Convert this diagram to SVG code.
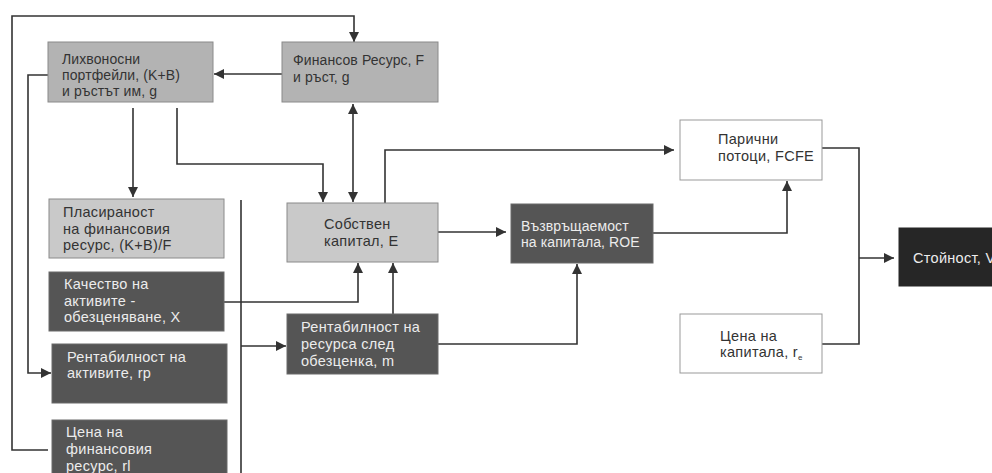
<svg xmlns="http://www.w3.org/2000/svg" width="992" height="473" viewBox="0 0 992 473">
<style>
.g{fill:#b3b3b3;stroke:#8a8a8a;stroke-width:1}
.l{fill:#c9c9c9;stroke:#8a8a8a;stroke-width:1}
.d{fill:#555;stroke:#6a6a6a;stroke-width:1}
.w{fill:#fff;stroke:#999;stroke-width:1}
.k{fill:#262626;stroke:#262626;stroke-width:1}
text{font-family:"Liberation Sans",Arial,sans-serif;font-size:14.5px;letter-spacing:0.3px}
.s{font-size:14px;letter-spacing:0.1px}
.tg{fill:#333}
.td{fill:#ececec}
.c path{fill:none;stroke:#333;stroke-width:1.6}
</style>
<defs>
<marker id="a" viewBox="0 0 10 10" refX="10" refY="5" markerWidth="10" markerHeight="10" markerUnits="userSpaceOnUse" orient="auto-start-reverse"><path d="M0,0L10,5L0,10z" fill="#333"/></marker>
</defs>
<rect width="992" height="473" fill="#fff"/>
<g class="c">
<path d="M48,450H12V16H354V42" marker-end="url(#a)"/>
<path d="M282,74H214" marker-end="url(#a)"/>
<path d="M48,75H28V373H51" marker-end="url(#a)"/>
<path d="M133,108V197" marker-end="url(#a)"/>
<path d="M177,108V164H323V202" marker-end="url(#a)"/>
<path d="M353,104V202" marker-start="url(#a)" marker-end="url(#a)"/>
<path d="M385,203V150H674" marker-end="url(#a)"/>
<path d="M241,200V473"/>
<path d="M438,232H506" marker-end="url(#a)"/>
<path d="M224,302H358V263" marker-end="url(#a)"/>
<path d="M393,314V263" marker-end="url(#a)"/>
<path d="M241,346H286" marker-end="url(#a)"/>
<path d="M438,344H577V264" marker-end="url(#a)"/>
<path d="M653,233H787V181" marker-end="url(#a)"/>
<path d="M822,148H859V344H822"/>
<path d="M859,258H894" marker-end="url(#a)"/>
</g>
<g id="n1"><rect class="g" x="48" y="42" width="165" height="60"/><text class="tg s"><tspan x="62" y="64">Лихвоносни</tspan><tspan x="62" y="80">портфейли, (K+B)</tspan><tspan x="62" y="96">и ръстът им, g</tspan></text></g>
<g id="n2"><rect class="g" x="282" y="42" width="156" height="60"/><text class="tg s"><tspan x="293" y="65">Финансов Ресурс, F</tspan><tspan x="293" y="82">и ръст, g</tspan></text></g>
<g id="n3"><rect class="l" x="49" y="199" width="175" height="59"/><text class="tg"><tspan x="63" y="217">Пласираност</tspan><tspan x="63" y="234">на финансовия</tspan><tspan x="63" y="250">ресурс, (K+B)/F</tspan></text></g>
<g id="n4"><rect class="d" x="49" y="272" width="175" height="59"/><text class="td"><tspan x="64" y="289">Качество на</tspan><tspan x="64" y="306">активите -</tspan><tspan x="64" y="322">обезценяване, X</tspan></text></g>
<g id="n5"><rect class="d" x="52" y="344" width="175" height="59"/><text class="td"><tspan x="67" y="362">Рентабилност на</tspan><tspan x="67" y="378">активите, rp</tspan></text></g>
<g id="n6"><rect class="d" x="52" y="420" width="175" height="60"/><text class="td"><tspan x="66" y="437">Цена на</tspan><tspan x="66" y="454">финансовия</tspan><tspan x="66" y="471">ресурс, rl</tspan></text></g>
<g id="n7"><rect class="l" x="287" y="203" width="151" height="59"/><text class="tg"><tspan x="324" y="229">Собствен</tspan><tspan x="324" y="246">капитал, E</tspan></text></g>
<g id="n8"><rect class="d" x="287" y="314" width="151" height="60"/><text class="td"><tspan x="301" y="332">Рентабилност на</tspan><tspan x="301" y="349">ресурса след</tspan><tspan x="301" y="366">обезценка, m</tspan></text></g>
<g id="n9"><rect class="d" x="511" y="204" width="142" height="59"/><text class="td s"><tspan x="521" y="231">Възвръщаемост</tspan><tspan x="521" y="247">на капитала, ROE</tspan></text></g>
<g id="n10"><rect class="w" x="680" y="120" width="142" height="60"/><text class="tg"><tspan x="718" y="144">Парични</tspan><tspan x="718" y="161">потоци, FCFE</tspan></text></g>
<g id="n11"><rect class="w" x="680" y="314" width="142" height="59"/><text class="tg"><tspan x="720" y="341">Цена на</tspan><tspan x="720" y="357">капитала, r</tspan><tspan font-size="8" dy="3">e</tspan></text></g>
<g id="n12"><rect class="k" x="899" y="228" width="100" height="58"/><text class="td" x="913" y="263">Стойност, V</text></g>
</svg>
